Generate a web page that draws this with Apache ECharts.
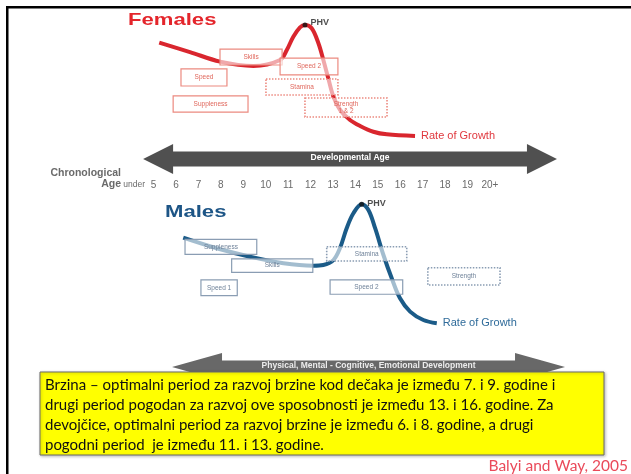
<!DOCTYPE html>
<html>
<head>
<meta charset="utf-8">
<script src="https://cdn.jsdelivr.net/npm/echarts@6/dist/echarts.min.js"></script>
<style>
  html, body { margin: 0; padding: 0; background: #fff; }
  #chart { width: 631px; height: 474px; }
</style>
</head>
<body>
<div id="chart"></div>
<script>
// age axis (tick labels)
var ageTicks = ['under', '5', '6', '7', '8', '9', '10', '11', '12', '13', '14', '15', '16', '17', '18', '19', '20+'];
var ageTickValues = [4, 5, 6, 7, 8, 9, 10, 11, 12, 13, 14, 15, 16, 17, 18, 19, 20];

// females - rate of growth curve
var femaleAge = [5.25, 6.62, 7.96, 9.45, 10.64, 10.94, 11.23, 11.53, 11.75, 12.05, 12.35, 12.57, 12.79, 13.02, 13.32, 13.76, 14.21, 14.80, 15.40, 16.66];
var femaleRate = [8.11, 7.33, 6.53, 6.17, 6.67, 7.5, 8.61, 9.39, 9.58, 9.31, 8.06, 6.67, 5.14, 3.61, 2.5, 1.67, 1.17, 0.69, 0.47, 0.33];

// males - rate of growth curve
var maleAge = [6.32, 7.81, 9.30, 10.79, 12.12, 12.57, 13.02, 13.31, 13.61, 13.91, 14.28, 14.58, 14.88, 15.25, 15.62, 15.99, 16.44, 17.03, 17.63];
var maleRate = [7.69, 6.81, 6.11, 5.56, 5.36, 5.42, 5.83, 6.81, 8.48, 9.73, 10.48, 10.0, 8.48, 6.25, 4.31, 2.64, 1.53, 0.83, 0.56];

// trainability windows: [name, from age, to age, top, bottom, dotted]
var femaleWindows = [
  ['Skills', 7.96, 10.73, 7.58, 6.25, false],
  ['Speed 2', 10.64, 13.22, 6.83, 5.42, false],
  ['Speed', 6.22, 8.27, 5.92, 4.5, false],
  ['Stamina', 10.01, 13.22, 5.08, 3.75, true],
  ['Suppleness', 5.87, 9.21, 3.67, 2.33, false],
  ['Strength\n1 & 2', 11.75, 15.41, 3.5, 1.92, true]
];
var maleWindows = [
  ['Suppleness', 6.40, 9.60, 7.56, 6.31, false],
  ['Skills', 8.48, 12.10, 5.92, 4.81, false],
  ['Speed 1', 7.11, 8.73, 4.17, 2.86, false],
  ['Stamina', 12.72, 16.29, 6.94, 5.75, true],
  ['Speed 2', 12.87, 16.11, 4.17, 2.98, false],
  ['Strength', 17.23, 20.45, 5.19, 3.75, true]
];

// arrows: [from age, to age, label]
var devArrow = [4.53, 22.99, 'Developmental Age'];
var bottomArrow = [5.82, 23.35, 'Physical, Mental - Cognitive, Emotional Development'];

var note = [
  'Brzina – optimalni period za razvoj brzine kod dečaka je između 7. i 9. godine i',
  'drugi period pogodan za razvoj ove sposobnosti je između 13. i 16. godine. Za',
  'devojčice, optimalni period za razvoj brzine je između 6. i 8. godine, a drugi',
  'pogodni period  je između 11. i 13. godine.'
];

var FONT = '"Liberation Sans", Arial, sans-serif';

function pairs(xs, ys) {
  return xs.map(function (x, i) { return [x, ys[i]]; });
}
function peak(xs, ys) {
  var k = 0;
  ys.forEach(function (v, i) { if (v > ys[k]) k = i; });
  return [xs[k], ys[k]];
}

function boxRenderer(list, stroke, textColor) {
  return function (params, api) {
    var w = list[params.dataIndex];
    var p0 = api.coord([w[1], w[3]]);
    var p1 = api.coord([w[2], w[4]]);
    return {
      type: 'group',
      children: [{
        type: 'rect',
        shape: { x: p0[0], y: p0[1], width: p1[0] - p0[0], height: p1[1] - p0[1] },
        style: { fill: 'rgba(255,255,255,0.6)', stroke: stroke, lineWidth: w[5] ? 1.6 : 1.2, lineDash: w[5] ? [1.5, 1.5] : null }
      }, {
        type: 'text',
        style: {
          text: w[0], x: (p0[0] + p1[0]) / 2, y: (p0[1] + p1[1]) / 2,
          align: 'center', verticalAlign: 'middle',
          fill: textColor, fontSize: 6.5, fontFamily: FONT, lineHeight: 7
        }
      }]
    };
  };
}

function arrowRenderer(a, headLen, headHalf, bodyHalf, fill, textColor, fontSize) {
  return function (params, api) {
    var l = api.coord([a[0], 0.5]);
    var r = api.coord([a[1], 0.5]);
    var cy = l[1], lx = l[0], rx = r[0];
    return {
      type: 'group',
      children: [{
        type: 'polygon',
        shape: {
          points: [[lx, cy], [lx + headLen, cy - headHalf], [lx + headLen, cy - bodyHalf], [rx - headLen, cy - bodyHalf],
            [rx - headLen, cy - headHalf], [rx, cy], [rx - headLen, cy + headHalf], [rx - headLen, cy + bodyHalf],
            [lx + headLen, cy + bodyHalf], [lx + headLen, cy + headHalf]]
        },
        style: { fill: fill }
      }, {
        type: 'text',
        style: {
          text: a[2], x: (lx + rx) / 2, y: cy - 1,
          align: 'center', verticalAlign: 'middle',
          fill: textColor, fontSize: fontSize, fontWeight: 'bold', fontFamily: FONT
        }
      }]
    };
  };
}

var chart = echarts.init(document.getElementById('chart'));

var gx = { left: 108.8, width: 470.8 };
var option = {
  animation: false,
  backgroundColor: '#fff',
  grid: [
    { left: gx.left, width: gx.width, top: 20, height: 120 },
    { left: gx.left, width: gx.width, top: 198, height: 132 },
    { left: gx.left, width: gx.width, top: 146, height: 26 },
    { left: gx.left, width: gx.width, top: 350, height: 34 }
  ],
  xAxis: [0, 1, 2, 3].map(function (i) {
    return {
      gridIndex: i, type: 'value', min: 3, max: 24, interval: 1,
      show: i === 2,
      axisLine: { show: false }, axisTick: { show: false }, splitLine: { show: false },
      axisLabel: {
        margin: 8, color: '#6a6a6a', fontSize: 10, fontFamily: FONT,
        showMinLabel: true, showMaxLabel: true,
        formatter: function (v) {
          var k = ageTickValues.indexOf(v);
          if (k < 0) return '';
          return ageTicks[k] === 'under' ? '{u|under}' : ageTicks[k];
        },
        rich: { u: { fontSize: 8.5, color: '#6a6a6a', fontFamily: FONT, padding: [0, 0, 6, 6] } }
      }
    };
  }),
  yAxis: [
    { gridIndex: 0, type: 'value', min: 0, max: 10, show: false },
    { gridIndex: 1, type: 'value', min: 0, max: 11, show: false },
    { gridIndex: 2, type: 'value', min: 0, max: 1, show: false },
    { gridIndex: 3, type: 'value', min: 0, max: 1, show: false }
  ],
  series: [
    {
      type: 'line', name: 'Females', xAxisIndex: 0, yAxisIndex: 0, z: 2,
      data: pairs(femaleAge, femaleRate), smooth: 0.35, showSymbol: false,
      lineStyle: { color: '#d9262e', width: 4 },
      endLabel: { show: true, formatter: 'Rate of Growth', color: '#e0383e', fontSize: 11, fontFamily: FONT, distance: 6 }
    },
    {
      type: 'line', name: 'Males', xAxisIndex: 1, yAxisIndex: 1, z: 2,
      data: pairs(maleAge, maleRate), smooth: 0.35, showSymbol: false,
      lineStyle: { color: '#1b5b88', width: 4 },
      endLabel: { show: true, formatter: 'Rate of Growth', color: '#2f6b9a', fontSize: 11, fontFamily: FONT, distance: 6 }
    },
    {
      type: 'scatter', xAxisIndex: 0, yAxisIndex: 0, z: 4, symbolSize: 5,
      data: [peak(femaleAge, femaleRate)], itemStyle: { color: '#111' },
      label: { show: true, formatter: 'PHV', position: 'right', offset: [-2, -3], color: '#222', fontSize: 9, fontWeight: 'bold', fontFamily: FONT }
    },
    {
      type: 'scatter', xAxisIndex: 1, yAxisIndex: 1, z: 4, symbolSize: 5,
      data: [peak(maleAge, maleRate)], itemStyle: { color: '#111' },
      label: { show: true, formatter: 'PHV', position: 'right', offset: [-2, -1], color: '#222', fontSize: 9, fontWeight: 'bold', fontFamily: FONT }
    },
    {
      type: 'custom', xAxisIndex: 0, yAxisIndex: 0, z: 3,
      data: femaleWindows.map(function (w) { return [w[1], w[2], w[3], w[4]]; }),
      renderItem: boxRenderer(femaleWindows, '#ec8a80', '#e0675c')
    },
    {
      type: 'custom', xAxisIndex: 1, yAxisIndex: 1, z: 3,
      data: maleWindows.map(function (w) { return [w[1], w[2], w[3], w[4]]; }),
      renderItem: boxRenderer(maleWindows, '#8a9db3', '#6f8299')
    },
    {
      type: 'custom', xAxisIndex: 2, yAxisIndex: 2, z: 3, clip: false,
      data: [[devArrow[0], devArrow[1]]],
      renderItem: arrowRenderer(devArrow, 30, 15, 7.5, '#505050', '#ffffff', 8.5)
    },
    {
      type: 'custom', xAxisIndex: 3, yAxisIndex: 3, z: 3, clip: false,
      data: [[bottomArrow[0], bottomArrow[1]]],
      renderItem: arrowRenderer(bottomArrow, 50, 14, 6.5, '#686868', '#ececec', 8.5)
    }
  ],
  graphic: [
    { type: 'rect', z: 10, shape: { x: 6, y: 6, width: 625, height: 2.5 }, style: { fill: '#000' } },
    { type: 'rect', z: 10, shape: { x: 6, y: 6, width: 2.5, height: 468 }, style: { fill: '#000' } },
    { type: 'text', z: 10, x: 128, y: 12, scaleX: 1.3, style: { text: 'Females', fill: '#e4252b', font: 'bold 17px ' + FONT, textVerticalAlign: 'top' } },
    { type: 'text', z: 10, x: 165, y: 204, scaleX: 1.3, style: { text: 'Males', fill: '#1d5586', font: 'bold 17px ' + FONT, textVerticalAlign: 'top' } },
    { type: 'text', z: 10, x: 121, y: 173, style: { text: 'Chronological', fill: '#6a6a6a', font: 'bold 10.5px ' + FONT, textAlign: 'right', textVerticalAlign: 'middle' } },
    { type: 'text', z: 10, x: 121, y: 184, style: { text: 'Age', fill: '#6a6a6a', font: 'bold 10.5px ' + FONT, textAlign: 'right', textVerticalAlign: 'middle' } },
    { type: 'rect', z: 20, shape: { x: 40, y: 372, width: 564, height: 83 }, style: { fill: '#ffff00', stroke: '#6b6b6b', lineWidth: 1, shadowBlur: 3, shadowColor: 'rgba(0,0,0,0.25)', shadowOffsetX: 1, shadowOffsetY: 1 } },
    { type: 'text', z: 21, x: 45, y: 375, style: { text: note.join('\n'), fill: '#111', font: '15px Lato, "Noto Sans", sans-serif', lineHeight: 20, textVerticalAlign: 'top' } },
    { type: 'text', z: 21, x: 628, y: 466, style: { text: 'Balyi and Way, 2005', fill: '#ea4a5a', font: '15.5px Lato, "Noto Sans", sans-serif', textAlign: 'right', textVerticalAlign: 'middle' } }
  ]
};
chart.setOption(option);
</script>
</body>
</html>
